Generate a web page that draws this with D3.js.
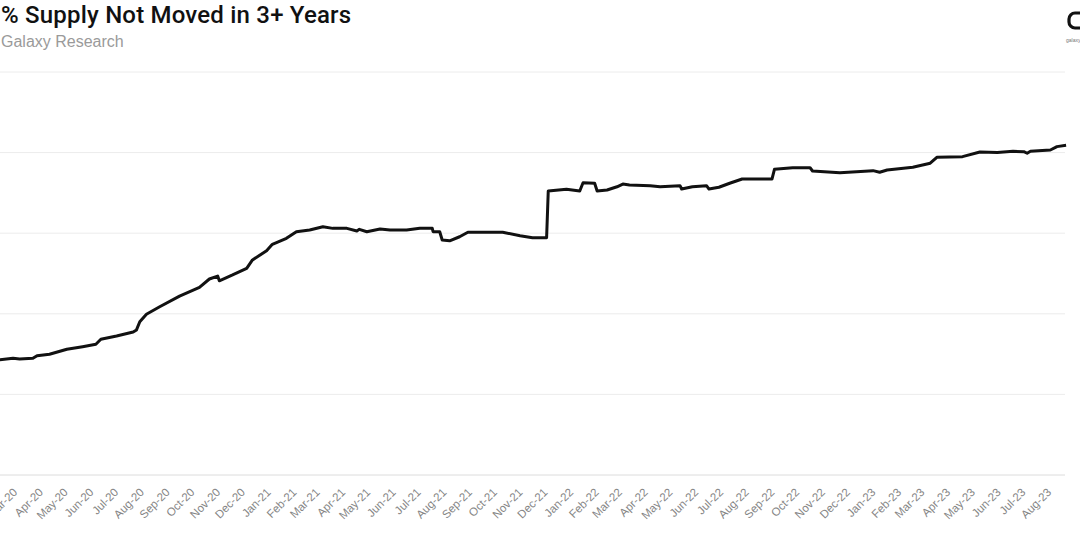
<!DOCTYPE html>
<html>
<head>
<meta charset="utf-8">
<script src="https://cdn.jsdelivr.net/npm/d3@7"></script>
<style>
  html, body { margin: 0; padding: 0; background: #fff; overflow: hidden; }
  svg { display: block; }
</style>
</head>
<body>
<svg id="chart" width="1080" height="544"></svg>
<script>
// ---- data ----
const title = "% Supply Not Moved in 3+ Years";
const subtitle = "Galaxy Research";
const yTicks = [20, 25, 30, 35, 40, 45];
const monthTicks = ["2020-03-01","2020-04-01","2020-05-01","2020-06-01","2020-07-01","2020-08-01","2020-09-01","2020-10-01","2020-11-01","2020-12-01",
  "2021-01-01","2021-02-01","2021-03-01","2021-04-01","2021-05-01","2021-06-01","2021-07-01","2021-08-01","2021-09-01","2021-10-01","2021-11-01","2021-12-01",
  "2022-01-01","2022-02-01","2022-03-01","2022-04-01","2022-05-01","2022-06-01","2022-07-01","2022-08-01","2022-09-01","2022-10-01","2022-11-01","2022-12-01",
  "2023-01-01","2023-02-01","2023-03-01","2023-04-01","2023-05-01","2023-06-01","2023-07-01","2023-08-01"];
const dates = ["2020-02-01","2020-02-24","2020-03-03","2020-03-19","2020-03-24","2020-04-08","2020-04-29","2020-05-18","2020-06-03","2020-06-09",
  "2020-06-28","2020-07-18","2020-07-22","2020-07-26","2020-08-03","2020-08-19","2020-09-12","2020-10-06","2020-10-18","2020-10-28",
  "2020-10-30","2020-11-15","2020-12-02","2020-12-09","2020-12-26","2021-01-02","2021-01-19","2021-01-31","2021-02-16","2021-03-04",
  "2021-03-16","2021-04-02","2021-04-14","2021-04-17","2021-04-26","2021-05-12","2021-05-24","2021-06-13","2021-06-29","2021-07-14",
  "2021-07-15","2021-07-23","2021-07-26","2021-08-04","2021-08-16","2021-08-26","2021-10-07","2021-10-28","2021-11-12","2021-11-29",
  "2021-12-01","2021-12-23","2022-01-08","2022-01-12","2022-01-26","2022-01-29","2022-02-10","2022-02-22","2022-03-01","2022-03-09",
  "2022-04-03","2022-04-15","2022-05-09","2022-05-11","2022-05-24","2022-06-10","2022-06-13","2022-06-25","2022-07-08","2022-07-23",
  "2022-08-28","2022-08-31","2022-09-22","2022-10-13","2022-10-16","2022-11-18","2022-12-28","2023-01-05","2023-01-14","2023-02-14",
  "2023-03-07","2023-03-15","2023-04-15","2023-05-06","2023-05-27","2023-06-15","2023-06-28","2023-07-02","2023-07-06","2023-07-30",
  "2023-08-07","2023-08-18"];
const values = [27.10,27.24,27.20,27.24,27.40,27.49,27.80,27.96,28.11,28.42,
  28.62,28.87,29.00,29.51,29.97,30.44,31.10,31.64,32.16,32.34,
  32.05,32.41,32.82,33.34,33.91,34.31,34.68,35.09,35.20,35.40,
  35.30,35.30,35.14,35.24,35.09,35.26,35.20,35.20,35.30,35.30,
  35.09,35.09,34.58,34.53,34.78,35.06,35.06,34.84,34.72,34.72,
  37.62,37.72,37.62,38.13,38.10,37.62,37.68,37.88,38.05,37.99,
  37.95,37.88,37.95,37.74,37.88,37.95,37.74,37.85,38.10,38.36,
  38.36,38.96,39.06,39.06,38.86,38.75,38.88,38.78,38.92,39.09,
  39.34,39.71,39.75,40.04,40.00,40.08,40.06,39.96,40.08,40.16,
  40.37,40.45];
const monthFmt = d3.timeFormat("%b-%y");

// ---- chart ----
const svg = d3.select("#chart");
const parse = d3.timeParse("%Y-%m-%d");
const series = dates.map((d, i) => ({ date: parse(d), value: values[i] }));

const x = d3.scaleTime()
  .domain([parse("2020-03-01"), parse("2023-08-01")])
  .range([18, 1052]);
const y = d3.scaleLinear().domain([20, 45]).range([475, 72]);
const plotLeft = 0, plotRight = 1065;

// gridlines
svg.append("g")
  .selectAll("line")
  .data(yTicks)
  .join("line")
  .attr("x1", plotLeft).attr("x2", plotRight)
  .attr("y1", d => y(d)).attr("y2", d => y(d))
  .attr("stroke", d => d === 20 ? "#dcdcdc" : "#ececec")
  .attr("stroke-width", 1);

// x labels
const xg = svg.append("g");
xg.selectAll("text")
  .data(monthTicks.map(parse))
  .join("text")
  .attr("transform", d => `translate(${x(d)},493) rotate(-45)`)
  .attr("text-anchor", "end")
  .attr("font-family", "Liberation Sans, Arial, sans-serif")
  .attr("font-size", 11.5)
  .attr("fill", "#858585")
  .text(d => monthFmt(d));

// line
const line = d3.line().x(d => x(d.date)).y(d => y(d.value)).curve(d3.curveLinear);
svg.append("path")
  .datum(series)
  .attr("d", line)
  .attr("fill", "none")
  .attr("stroke", "#111")
  .attr("stroke-width", 3)
  .attr("stroke-linejoin", "round");

// title & subtitle
svg.append("text")
  .attr("x", 1).attr("y", 23)
  .attr("font-family", "Roboto, Liberation Sans, Arial, sans-serif")
  .attr("font-weight", 500)
  .attr("font-size", 24)
  .attr("letter-spacing", "0.2px")
  .attr("fill", "#111")
  .text(title);
svg.append("text")
  .attr("x", 1).attr("y", 47)
  .attr("font-family", "Liberation Sans, Arial, sans-serif")
  .attr("font-size", 16)
  .attr("fill", "#9a9a9a")
  .text(subtitle);

// logo
svg.append("rect")
  .attr("x", 1069).attr("y", 13).attr("width", 20).attr("height", 15).attr("rx", 6)
  .attr("fill", "none").attr("stroke", "#111").attr("stroke-width", 3.2);
svg.append("text")
  .attr("x", 1066).attr("y", 42)
  .attr("font-family", "Liberation Sans, Arial, sans-serif")
  .attr("font-size", 5).attr("fill", "#777")
  .text("galaxy");
</script>
</body>
</html>
